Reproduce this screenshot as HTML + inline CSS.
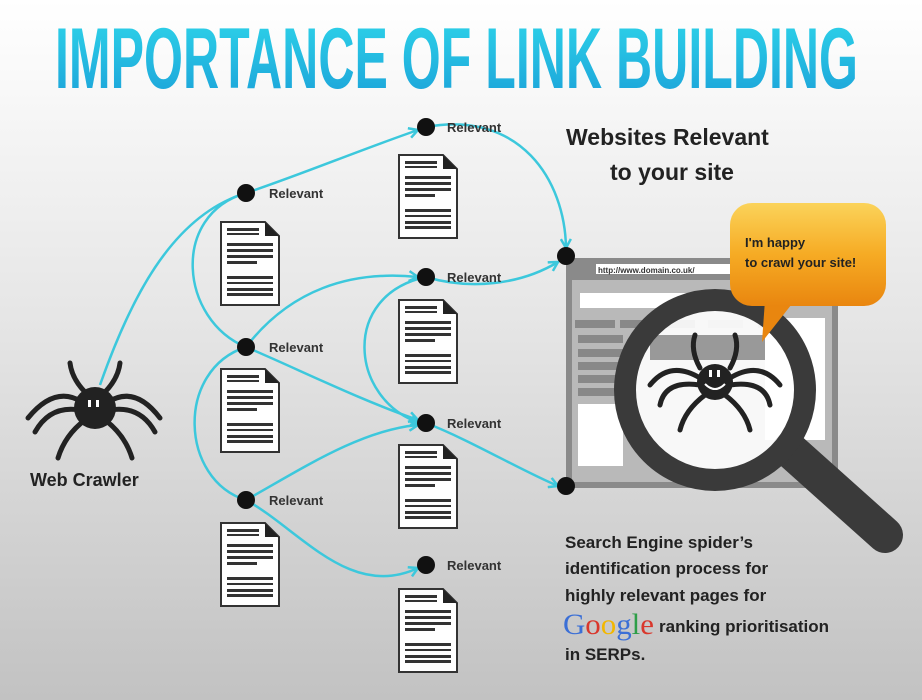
<!DOCTYPE html>
<html><head><meta charset="utf-8"><style>
html,body{margin:0;padding:0;width:922px;height:700px;overflow:hidden}
svg{display:block}
text{font-family:"Liberation Sans",sans-serif;font-weight:bold}
</style></head><body>
<svg width="922" height="700" viewBox="0 0 922 700" xmlns="http://www.w3.org/2000/svg">
<defs>
<linearGradient id="bg" x1="0" y1="0" x2="0" y2="1"><stop offset="0" stop-color="#ffffff"/><stop offset="0.45" stop-color="#e6e6e6"/><stop offset="1" stop-color="#c2c2c2"/></linearGradient>
<linearGradient id="tg" x1="0" y1="0" x2="0" y2="1"><stop offset="0" stop-color="#2fd6ea"/><stop offset="1" stop-color="#1a9fd8"/></linearGradient>
<linearGradient id="og" x1="0" y1="0" x2="0" y2="1"><stop offset="0" stop-color="#fbd35a"/><stop offset="0.5" stop-color="#f6ab24"/><stop offset="1" stop-color="#e9860f"/></linearGradient>
<marker id="ar" markerWidth="12" markerHeight="12" refX="10" refY="6" orient="auto" markerUnits="userSpaceOnUse"><path d="M1,1 L10,6 L1,11" fill="none" stroke="#3cc8dc" stroke-width="2.5"/></marker>
<g id="doc">
<path d="M0,0 H44 L58,14 V83 H0 Z" fill="#fff" stroke="#333" stroke-width="2"/>
<path d="M44,0 L58,14 H44 Z" fill="#222"/>
<rect x="6" y="6" width="32" height="3" fill="#333"/>
<rect x="6" y="11" width="32" height="2" fill="#333"/>
<rect x="6" y="21" width="46" height="3" fill="#333"/>
<rect x="6" y="27" width="46" height="3" fill="#333"/>
<rect x="6" y="33" width="46" height="3" fill="#333"/>
<rect x="6" y="39" width="30" height="3" fill="#333"/>
<rect x="6" y="54" width="46" height="3" fill="#333"/>
<rect x="6" y="60" width="46" height="2" fill="#333"/>
<rect x="6" y="66" width="46" height="3" fill="#333"/>
<rect x="6" y="71" width="46" height="3" fill="#333"/>
</g>
</defs>
<rect width="922" height="700" fill="url(#bg)"/>
<text x="55" y="88" font-size="86" fill="url(#tg)" textLength="803" lengthAdjust="spacingAndGlyphs" style="font-family:'Liberation Sans Narrow','Liberation Sans',sans-serif">IMPORTANCE OF LINK BUILDING</text>

<g>
<rect x="566" y="258" width="272" height="230" fill="#8a8a8a"/>
<rect x="596" y="264" width="170" height="10" fill="#fff"/>
<text x="598" y="273" font-size="8" fill="#333">http://www.domain.co.uk/</text>
<rect x="572" y="280" width="260" height="202" fill="#b9b9b9"/>
<rect x="580" y="293" width="200" height="15" fill="#fff"/>
<rect x="575" y="320" width="40" height="8" fill="#888"/>
<rect x="620" y="320" width="75" height="8" fill="#888"/>
<rect x="708" y="320" width="35" height="8" fill="#999"/>
<rect x="758" y="320" width="34" height="8" fill="#888"/>
<rect x="578" y="335" width="45" height="8" fill="#888"/>
<rect x="578" y="349" width="45" height="8" fill="#888"/>
<rect x="578" y="362" width="45" height="8" fill="#888"/>
<rect x="578" y="375" width="45" height="8" fill="#888"/>
<rect x="578" y="388" width="45" height="8" fill="#888"/>
<rect x="578" y="404" width="45" height="62" fill="#fff"/>
<rect x="765" y="318" width="60" height="122" fill="#fff"/>
</g>
<line x1="790" y1="450" x2="885" y2="535" stroke="#3a3a3a" stroke-width="36" stroke-linecap="round"/>
<circle cx="715" cy="390" r="88" fill="#fff" fill-opacity="0.9"/>
<rect x="650" y="335" width="115" height="25" fill="#999"/>
<circle cx="715" cy="390" r="90" fill="none" stroke="#3a3a3a" stroke-width="22"/>
<g stroke="#222" stroke-width="5" fill="none" stroke-linecap="round">
<path d="M700,368 Q690,350 695,335"/><path d="M730,368 Q740,350 735,335"/>
<path d="M700,378 Q670,360 650,385"/><path d="M730,378 Q760,360 780,385"/>
<path d="M700,385 Q665,380 660,405"/><path d="M730,385 Q765,380 770,405"/>
<path d="M705,395 Q685,410 680,430"/><path d="M725,395 Q745,410 750,430"/>
</g>
<circle cx="715" cy="382" r="18" fill="#222"/>
<rect x="709" y="370" width="3" height="7" fill="#fff"/><rect x="717" y="370" width="3" height="7" fill="#fff"/>
<path d="M705,384 Q715,394 725,384" stroke="#fff" stroke-width="2" fill="none"/>
<path d="M765,300 L762,342 L795,300 Z" fill="#e9860f"/>
<rect x="730" y="203" width="156" height="103" rx="22" fill="url(#og)"/>
<text x="745" y="247" font-size="13" fill="#222">I'm happy</text>
<text x="745" y="267" font-size="13" fill="#222">to crawl your site!</text>

<g fill="none" stroke="#3cc8dc" stroke-width="2.5">
<path d="M100,385 C130,300 170,220 240,195"/>
<path d="M246,193 C300,175 360,150 418,130" marker-end="url(#ar)"/>
<path d="M426,127 C520,110 565,180 566,248" marker-end="url(#ar)"/>
<path d="M246,193 C170,215 180,320 246,347"/>
<path d="M246,347 C290,290 350,270 418,277" marker-end="url(#ar)"/>
<path d="M426,277 C470,290 520,285 558,262" marker-end="url(#ar)"/>
<path d="M426,277 C340,295 350,400 420,423" marker-end="url(#ar)"/>
<path d="M246,347 C300,370 360,400 418,420" marker-end="url(#ar)"/>
<path d="M246,347 C175,370 180,480 246,500"/>
<path d="M246,500 C300,470 360,430 418,425" marker-end="url(#ar)"/>
<path d="M426,423 C470,440 520,470 558,486" marker-end="url(#ar)"/>
<path d="M246,500 C300,530 350,600 418,568" marker-end="url(#ar)"/>
</g>
<g fill="#111">
<circle cx="426" cy="127" r="9"/><circle cx="246" cy="193" r="9"/><circle cx="426" cy="277" r="9"/>
<circle cx="246" cy="347" r="9"/><circle cx="426" cy="423" r="9"/><circle cx="246" cy="500" r="9"/>
<circle cx="566" cy="256" r="9"/><circle cx="566" cy="486" r="9"/><circle cx="426" cy="565" r="9"/>
</g>
<g font-size="13" fill="#333">
<text x="447" y="132">Relevant</text><text x="269" y="198">Relevant</text>
<text x="447" y="282">Relevant</text><text x="269" y="352">Relevant</text>
<text x="447" y="428">Relevant</text><text x="269" y="505">Relevant</text>
<text x="447" y="570">Relevant</text>
</g>
<use href="#doc" x="399" y="155"/><use href="#doc" x="221" y="222"/>
<use href="#doc" x="399" y="300"/><use href="#doc" x="221" y="369"/>
<use href="#doc" x="399" y="445"/><use href="#doc" x="221" y="523"/>
<use href="#doc" x="399" y="589"/>

<g stroke="#222" stroke-width="5" fill="none" stroke-linecap="round">
<path d="M88,395 Q72,380 70,363"/><path d="M102,395 Q118,380 120,363"/>
<path d="M82,402 Q55,385 28,418"/><path d="M108,402 Q135,385 160,418"/>
<path d="M80,410 Q50,405 35,432"/><path d="M110,410 Q140,405 155,432"/>
<path d="M85,420 Q65,435 58,458"/><path d="M105,420 Q125,435 132,458"/>
</g>
<circle cx="95" cy="408" r="21" fill="#222"/>
<rect x="88" y="400" width="3" height="7" fill="#fff"/><rect x="96" y="400" width="3" height="7" fill="#fff"/>
<text x="30" y="486" font-size="18" fill="#222">Web Crawler</text>

<text x="566" y="145" font-size="23" fill="#222">Websites Relevant</text>
<text x="610" y="180" font-size="23" fill="#222">to your site</text>

<g font-size="17" fill="#222">
<text x="565" y="548">Search Engine spider’s</text>
<text x="565" y="574">identification process for</text>
<text x="565" y="601">highly relevant pages for</text>
<text x="659" y="632">ranking prioritisation</text>
<text x="565" y="660">in SERPs.</text>
</g>
<text x="563" y="634" font-size="30" textLength="91" lengthAdjust="spacingAndGlyphs" style="font-family:'Liberation Serif',serif;font-weight:normal"><tspan fill="#3b6fd6">G</tspan><tspan fill="#d9372c">o</tspan><tspan fill="#f2b700">o</tspan><tspan fill="#3b6fd6">g</tspan><tspan fill="#2e9e48">l</tspan><tspan fill="#d9372c">e</tspan></text>
</svg>
</body></html>
